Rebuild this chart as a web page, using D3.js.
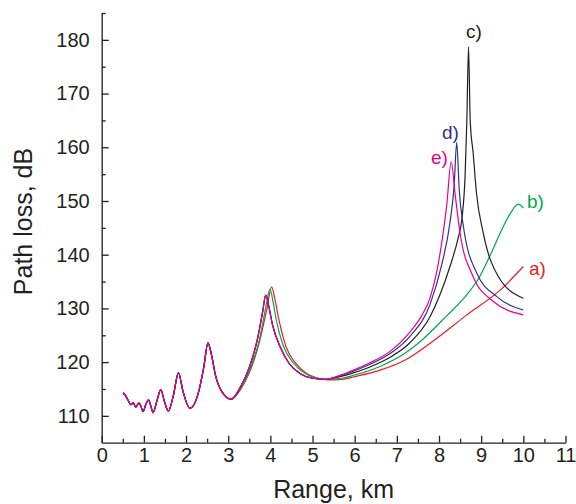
<!DOCTYPE html>
<html>
<head>
<meta charset="utf-8">
<script src="https://cdn.jsdelivr.net/npm/d3@7"></script>
<style>
  body { margin: 0; background: #fff; }
  svg { font-family: "Liberation Sans", Arial, sans-serif; }
</style>
</head>
<body>
<svg id="chart" width="576" height="504"></svg>
<script>
// shared part of all five curves (range km, loss dB)
var commonPart = [[0.51,114.3],[0.56,113.8],[0.62,113.0],[0.69,112.1],[0.75,112.4],[0.81,111.6],[0.88,112.4],
  [0.93,111.8],[0.98,110.8],[1.05,112.2],[1.11,113.0],[1.16,112.0],[1.22,110.6],[1.31,112.8],[1.40,114.9],
  [1.49,112.6],[1.58,110.9],[1.70,113.8],[1.82,118.0],[1.93,114.5],[2.09,111.4],[2.30,114.5],[2.42,119.0],
  [2.52,123.6],[2.60,121.5],[2.70,117.5],[2.85,114.5],[3.07,113.1]];

var tailA = [[3.30,115.0],[3.50,118.0],[3.75,124.0],[3.92,130.0],[4.03,134.0],[4.10,132.0],[4.20,128.0],
  [4.37,122.9],[4.60,119.8],[4.86,117.9],[5.10,117.1],[5.36,116.7],[5.70,116.8],[6.00,117.3],[6.60,118.5],
  [7.20,120.4],[7.87,124.0],[8.66,128.8],[9.45,133.4],[10.0,137.8]];
var tailB = [[3.30,115.1],[3.50,118.3],[3.75,124.5],[3.90,130.5],[3.99,133.6],[4.07,131.0],[4.15,127.5],
  [4.30,123.2],[4.55,119.8],[4.80,118.0],[5.05,117.1],[5.32,116.8],[5.70,117.0],[6.00,117.6],[6.60,119.2],
  [7.20,121.7],[7.55,123.8],[8.18,128.6],[8.60,132.0],[8.97,136.0],[9.25,140.5],[9.45,144.0],[9.70,147.8],
  [9.88,149.4],[10.0,148.7]];
var tailC = [[3.30,115.5],[3.50,119.0],[3.70,124.5],[3.82,129.5],[3.89,132.5],[3.96,130.5],[4.05,127.0],
  [4.23,122.9],[4.45,119.7],[4.70,117.9],[5.00,117.0],[5.30,116.8],[5.60,117.2],[6.00,118.1],[6.36,119.1],
  [6.84,120.9],[7.31,123.6],[7.79,128.5],[8.02,132.5],[8.26,137.8],[8.45,143.0],[8.54,146.5],[8.62,155.0],
  [8.66,165.0],[8.70,178.7],[8.74,165.0],[8.81,158.9],[8.89,151.4],[9.05,144.0],[9.41,135.9],[10.0,131.9]];
var tailD = [[3.30,115.5],[3.50,119.0],[3.70,124.5],[3.82,129.5],[3.89,132.5],[3.96,130.5],[4.05,127.0],
  [4.23,122.9],[4.45,119.7],[4.70,117.9],[5.00,117.0],[5.30,116.8],[5.60,117.3],[6.00,118.4],[6.36,119.6],
  [6.84,121.6],[7.31,124.8],[7.79,130.8],[8.06,138.0],[8.26,146.0],[8.36,153.0],[8.42,160.9],[8.48,152.0],
  [8.58,145.2],[8.90,136.5],[9.37,132.2],[10.0,129.7]];
var tailE = [[3.30,115.5],[3.50,119.0],[3.70,124.5],[3.82,129.5],[3.89,132.5],[3.96,130.5],[4.05,127.0],
  [4.23,122.9],[4.45,119.7],[4.70,117.9],[5.00,117.0],[5.30,116.8],[5.60,117.4],[6.00,118.6],[6.36,119.9],
  [6.84,122.0],[7.31,125.6],[7.60,128.8],[7.79,132.0],[7.95,137.0],[8.06,142.0],[8.18,149.0],[8.29,157.3],
  [8.38,151.4],[8.50,144.0],[8.81,135.9],[9.29,131.3],[10.0,128.8]];

var seriesNames = ["a)", "b)", "c)", "d)", "e)"];
var seriesColors = ["#ed1c24", "#00a651", "#231f20", "#2e3192", "#ec008c"];
var tails = [tailA, tailB, tailC, tailD, tailE];
var labelPos = [[529,275],[527,208],[466,38],[442,139],[431,164]];

var xTicks = d3.range(0, 12, 1);
var yTicks = d3.range(110, 190, 10);

var svg = d3.select("#chart");
var x = d3.scaleLinear().domain([0, 11]).range([101.7, 565.5]);
var y = d3.scaleLinear().domain([105, 185]).range([442.7, 13]);

var line = d3.line()
  .x(function(d){ return x(d[0]); })
  .y(function(d){ return y(d[1]); })
  .curve(d3.curveMonotoneX);

// curves
tails.forEach(function(t, i){
  svg.append("path")
    .datum(commonPart.concat(t))
    .attr("fill", "none")
    .attr("stroke", seriesColors[i])
    .attr("stroke-width", 1.2)
    .attr("d", line);
});

// labels
seriesNames.forEach(function(n, i){
  svg.append("text")
    .attr("x", labelPos[i][0])
    .attr("y", labelPos[i][1])
    .attr("fill", seriesColors[i])
    .style("font-size", "19px")
    .text(n);
});

// axes
svg.append("g")
  .attr("transform", "translate(0," + y(105) + ")")
  .call(d3.axisBottom(x).tickValues(xTicks).tickFormat(d3.format("d")).tickSize(-7).tickSizeOuter(0).tickPadding(5));
svg.append("g")
  .attr("transform", "translate(0," + y(105) + ")")
  .call(d3.axisBottom(x).tickValues(d3.range(0.5, 11, 1)).tickFormat("").tickSize(-4).tickSizeOuter(0))
  .select(".domain").remove();

svg.append("g")
  .attr("transform", "translate(" + x(0) + ",0)")
  .call(d3.axisLeft(y).tickValues(yTicks).tickSize(-7).tickSizeOuter(0).tickPadding(12));
svg.append("g")
  .attr("transform", "translate(" + x(0) + ",0)")
  .call(d3.axisLeft(y).tickValues(d3.range(115, 190, 10)).tickFormat("").tickSize(-4).tickSizeOuter(0))
  .select(".domain").remove();

svg.selectAll(".tick text").style("font-size", "20px").attr("fill", "#231f20");
svg.selectAll(".domain, .tick line").attr("stroke", "#231f20").attr("stroke-width", 1.3);

svg.append("text")
  .attr("x", (x(0) + x(11)) / 2)
  .attr("y", 498)
  .attr("text-anchor", "middle")
  .style("font-size", "25px")
  .attr("fill", "#231f20")
  .text("Range, km");

svg.append("text")
  .attr("transform", "translate(32,221.5) rotate(-90)")
  .attr("text-anchor", "middle")
  .style("font-size", "25px")
  .attr("fill", "#231f20")
  .text("Path loss, dB");
</script>
</body>
</html>
